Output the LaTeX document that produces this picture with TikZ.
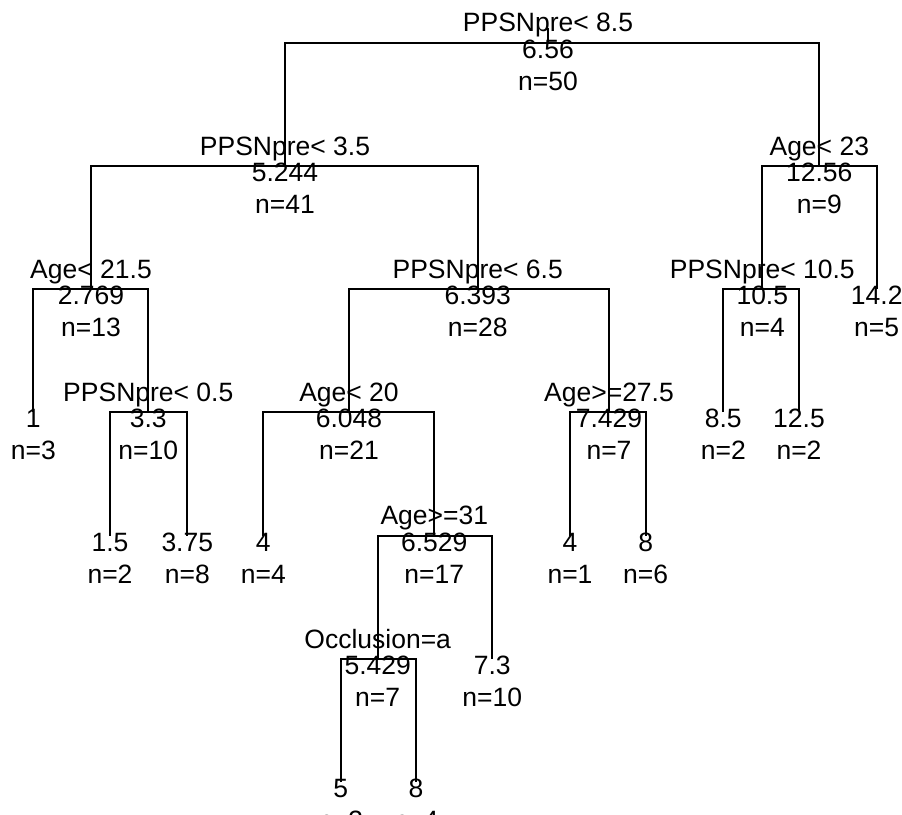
\documentclass[tikz,border=0pt]{standalone}
\usepackage{fontspec}
\setmainfont{Liberation Sans}
\tikzset{
  lbl/.style={anchor=base,inner sep=0pt,text=black,font=\fontsize{26.5}{30}\selectfont},
  edge/.style={draw=black,line width=2.1pt,line join=miter}
}
\newcommand\SplitN[6]{%
  \coordinate (#1) at (#2,#3);
  \node[lbl] (#1s) at (#2,#3-11) {#4};
  \node[lbl] (#1v) at (#2,#3+15.5) {#5};
  \node[lbl] (#1n) at (#2,#3+47.5) {#6};}
\newcommand\LeafN[5]{%
  \coordinate (#1) at (#2,#3);
  \node[lbl] (#1v) at (#2,#3+15.5) {#4};
  \node[lbl] (#1n) at (#2,#3+47.5) {#5};}
\begin{document}
\begin{tikzpicture}[x=1pt,y=-1pt]
\useasboundingbox (0,0) rectangle (902,814);
\clip (0,0) rectangle (902,814);
% level 0
\SplitN{t1}{548}{42.7}{PPSNpre< 8.5}{6.56}{n=50}
\coordinate (t1top) at (548,28);
% level 1
\SplitN{t2}{285}{166}{PPSNpre< 3.5}{5.244}{n=41}
\SplitN{t3}{819.3}{166}{Age< 23}{12.56}{n=9}
% level 2
\SplitN{t4}{91}{289.3}{Age< 21.5}{2.769}{n=13}
\SplitN{t5}{477.7}{289.3}{PPSNpre< 6.5}{6.393}{n=28}
\SplitN{t6}{762.3}{289.3}{PPSNpre< 10.5}{10.5}{n=4}
\LeafN{t7}{876.7}{289.3}{14.2}{n=5}
% level 3
\LeafN{t8}{33.3}{412}{1}{n=3}
\SplitN{t9}{148.3}{412}{PPSNpre< 0.5}{3.3}{n=10}
\SplitN{t10}{349}{412}{Age< 20}{6.048}{n=21}
\SplitN{t11}{609}{412}{Age>=27.5}{7.429}{n=7}
\LeafN{t12}{723.3}{412}{8.5}{n=2}
\LeafN{t13}{799}{412}{12.5}{n=2}
% level 4
\LeafN{t18}{110}{535.7}{1.5}{n=2}
\LeafN{t19}{187.3}{535.7}{3.75}{n=8}
\LeafN{t20}{263.3}{535.7}{4}{n=4}
\SplitN{t21}{434.3}{535.7}{Age>=31}{6.529}{n=17}
\LeafN{t22}{570}{535.7}{4}{n=1}
\LeafN{t23}{645.7}{535.7}{8}{n=6}
% level 5
\SplitN{t24}{377.7}{659}{Occlusion=a}{5.429}{n=7}
\LeafN{t25}{492.3}{659}{7.3}{n=10}
% level 6
\LeafN{t26}{340.7}{782.3}{5}{n=3}
\LeafN{t27}{416}{782.3}{8}{n=4}
% connectors
\draw[edge] (t1top) -- (t1);
\draw[edge] (t2) |- (t1) -| (t3);
\draw[edge] (t4) |- (t2) -| (t5);
\draw[edge] (t6) |- (t3) -| (t7);
\draw[edge] (t8) |- (t4) -| (t9);
\draw[edge] (t10) |- (t5) -| (t11);
\draw[edge] (t12) |- (t6) -| (t13);
\draw[edge] (t18) |- (t9) -| (t19);
\draw[edge] (t20) |- (t10) -| (t21);
\draw[edge] (t22) |- (t11) -| (t23);
\draw[edge] (t24) |- (t21) -| (t25);
\draw[edge] (t26) |- (t24) -| (t27);
\end{tikzpicture}
\end{document}
